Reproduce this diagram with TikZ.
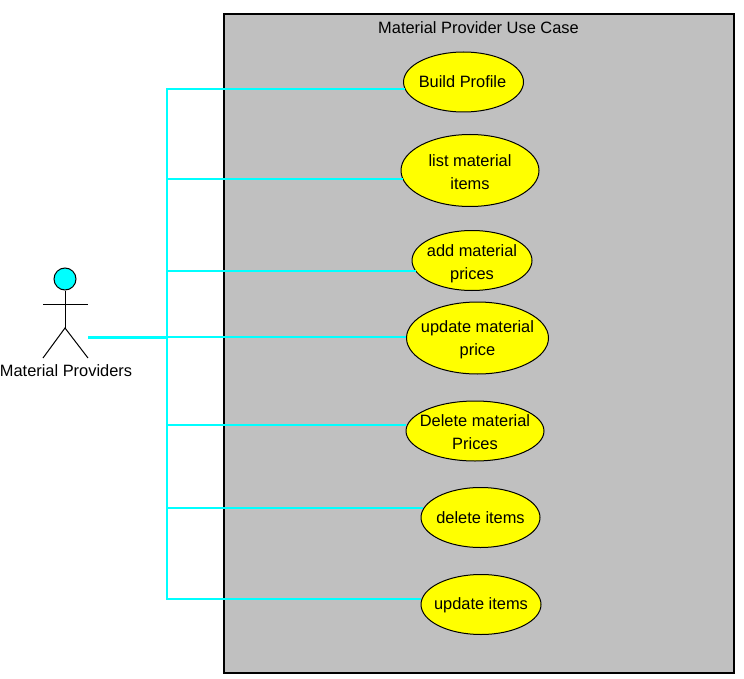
\documentclass[tikz,border=0pt]{standalone}
\usepackage{fontspec}
\setmainfont{Liberation Sans}
\usetikzlibrary{shapes,positioning}

\definecolor{boxgray}{RGB}{192,192,192}
\definecolor{linkcyan}{RGB}{0,255,255}
\definecolor{caseyellow}{RGB}{255,255,0}

\begin{document}
\begin{tikzpicture}[
  x=1pt, y=-1pt,
  casetext/.style={align=center, inner sep=0pt, yshift=-1.5pt, font=\fontsize{16.4}{23}\selectfont},
  usecase/.style={ellipse, draw=black, fill=caseyellow, line width=1pt, inner sep=0pt},
  link/.style={draw=linkcyan, line width=1.2pt},
  figure/.style={draw=black, line width=1pt}
]
  \useasboundingbox (0,0) rectangle (744,679);

  \node[draw=black, fill=boxgray, line width=1.1pt, minimum width=510pt, minimum height=659pt, inner sep=0pt] (system) at (479,343.5) {};
  \node[casetext, yshift=1.5pt] (title) at (478.5,27.5) {Material Provider Use Case};

  \node[usecase, minimum width=120pt, minimum height=60pt, label={[casetext, yshift=1.5pt, xshift=-1pt]center:Build Profile}] (build) at (463.5,82) {};
  \node[usecase, minimum width=138pt, minimum height=72pt, label={[casetext]center:list material\\items}] (list) at (470,170.5) {};
  \node[usecase, minimum width=120pt, minimum height=60pt, label={[casetext, yshift=-1.5pt]center:add material\\prices}] (add) at (472,260.5) {};
  \node[usecase, minimum width=142pt, minimum height=72pt, label={[casetext]center:update material\\price}] (update) at (477.5,338) {};
  \node[usecase, minimum width=138pt, minimum height=60pt, label={[casetext]center:Delete material\\Prices}] (delete) at (475,431) {};
  \node[usecase, minimum width=119pt, minimum height=60pt, label={[casetext, yshift=1.5pt]center:delete items}] (delitems) at (480.5,517.5) {};
  \node[usecase, minimum width=120pt, minimum height=60pt, label={[casetext, yshift=0.5pt]center:update items}] (upditems) at (481,604.5) {};

  \node[circle, figure, fill=linkcyan, minimum size=22pt, inner sep=0pt] (head) at (65,279) {};
  \node[casetext, yshift=1.5pt] (actor) at (66,370.5) {Material Providers};
  \coordinate (hip) at (65,328);
  \coordinate (hand) at (88,337);
  \coordinate (hub) at (167,337);

  \draw[figure] (head) -- (hip);
  \draw[figure] (43,304) -- (88,304);
  \draw[figure] (43,358) -- (hip) -- (88,358);

  \draw[draw=linkcyan, line width=3pt] (hand) -- (hub);
  \draw[link] (hub) |- (build.187 |- 0,89);
  \draw[link] (hub) |- (list.188 |- 0,179);
  \draw[link] (hub) |- (add.191 |- 0,271);
  \draw[link] (hub) -- (update.west |- hub);
  \draw[link] (hub) |- (delete.176 |- 0,425);
  \draw[link] (hub) |- (delitems.171 |- 0,508);
  \draw[link] (hub) |- (upditems.175 |- 0,599);
\end{tikzpicture}
\end{document}
